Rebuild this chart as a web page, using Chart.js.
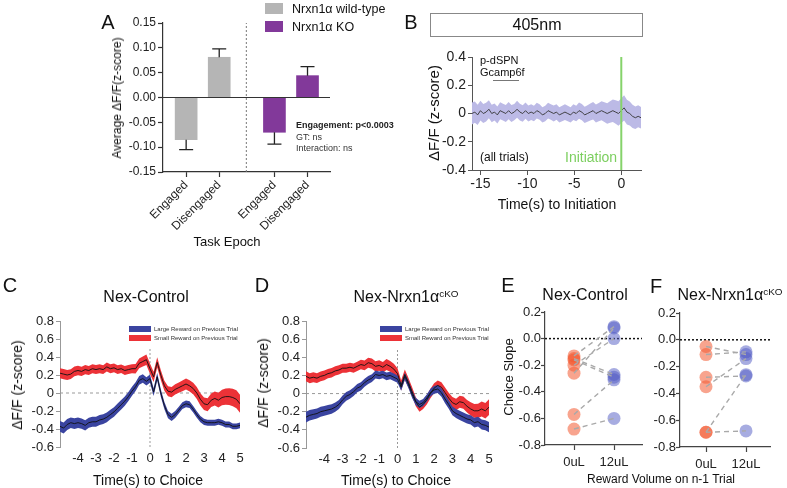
<!DOCTYPE html>
<html><head><meta charset="utf-8">
<script src="https://cdn.jsdelivr.net/npm/chart.js@4.4.1/dist/chart.umd.min.js"></script>
<style>
html,body{margin:0;padding:0;background:#fff;}
#wrap{position:relative;width:787px;height:488px;overflow:hidden;font-family:Arial,"Liberation Sans",Helvetica,sans-serif;color:#111;}
canvas{position:absolute;left:0;top:0;}
.t{position:absolute;white-space:nowrap;line-height:1;transform:translate(0,-50%);}
.c{transform:translate(-50%,-50%);}
.r{transform:translate(-50%,-50%) rotate(-90deg);}
.sw{position:absolute;}
sup{font-size:62%;vertical-align:0.55em;}
</style></head><body><div id="wrap">
<canvas id="cA" width="787" height="488"></canvas>
<canvas id="cB" width="787" height="488"></canvas>
<canvas id="cC" width="787" height="488"></canvas>
<canvas id="cD" width="787" height="488"></canvas>
<canvas id="cE" width="787" height="488"></canvas>
<canvas id="cF" width="787" height="488"></canvas>

<!-- panel letters -->
<div class="t c" style="left:108px;top:22px;font-size:20px">A</div>
<div class="t c" style="left:411px;top:22px;font-size:20px">B</div>
<div class="t c" style="left:10px;top:285px;font-size:20px">C</div>
<div class="t c" style="left:262px;top:285px;font-size:20px">D</div>
<div class="t c" style="left:508px;top:285px;font-size:20px">E</div>
<div class="t c" style="left:656px;top:286px;font-size:20px">F</div>

<!-- A -->
<div class="sw" style="left:265px;top:3px;width:18px;height:11px;background:#b5b5b5"></div>
<div class="sw" style="left:265px;top:21px;width:18px;height:11px;background:#82399a"></div>
<div class="t" style="left:292px;top:9px;font-size:12.5px">Nrxn1α wild-type</div>
<div class="t" style="left:292px;top:27px;font-size:12.5px">Nrxn1α KO</div>
<div class="t" style="left:296px;top:125px;font-size:9px;font-weight:bold;color:#222">Engagement: p&lt;0.0003</div>
<div class="t" style="left:296px;top:137px;font-size:9px;color:#333">GT: ns</div>
<div class="t" style="left:296px;top:148px;font-size:9px;color:#333">Interaction: ns</div>
<div class="t r" style="left:117px;top:98px;font-size:12px">Average ΔF/F(z-score)</div>
<div class="t c" style="left:227px;top:241px;font-size:13px">Task Epoch</div>

<!-- B -->
<div class="sw" style="left:430px;top:13px;width:211px;height:22px;border:1px solid #888"></div>
<div class="t c" style="left:537px;top:25px;font-size:16px">405nm</div>
<div class="t" style="left:480px;top:60px;font-size:11px">p-dSPN</div>
<div class="t" style="left:480px;top:72px;font-size:11px">Gcamp6f</div>
<div class="sw" style="left:493px;top:80px;width:26px;height:1px;background:#777"></div>
<div class="t" style="left:480px;top:157px;font-size:12px">(all trials)</div>
<div class="t" style="left:565px;top:157px;font-size:14px;color:#7ccf5f">Initiation</div>
<div class="t r" style="left:433px;top:113px;font-size:15px">ΔF/F (z-score)</div>
<div class="t c" style="left:557px;top:204px;font-size:14px">Time(s) to Initiation</div>

<!-- C -->
<div class="t c" style="left:146px;top:297px;font-size:16px">Nex-Control</div>
<div class="t r" style="left:17px;top:385px;font-size:14px">ΔF/F (z-score)</div>
<div class="t c" style="left:148px;top:480px;font-size:14px">Time(s) to Choice</div>
<div class="sw" style="left:129px;top:326px;width:22px;height:6px;background:#3a44a0"></div>
<div class="sw" style="left:129px;top:335px;width:22px;height:6px;background:#ec3237"></div>
<div class="t" style="left:154px;top:329px;font-size:6px;color:#333">Large Reward on Previous Trial</div>
<div class="t" style="left:154px;top:338px;font-size:6px;color:#333">Small Reward on Previous Trial</div>

<!-- D -->
<div class="t c" style="left:406px;top:297px;font-size:16px">Nex-Nrxn1α<sup>cKO</sup></div>
<div class="t r" style="left:263px;top:383px;font-size:14px">ΔF/F (z-score)</div>
<div class="t c" style="left:396px;top:480px;font-size:14px">Time(s) to Choice</div>
<div class="sw" style="left:380px;top:326px;width:22px;height:6px;background:#3a44a0"></div>
<div class="sw" style="left:380px;top:335px;width:22px;height:6px;background:#ec3237"></div>
<div class="t" style="left:405px;top:329px;font-size:6px;color:#333">Large Reward on Previous Trial</div>
<div class="t" style="left:405px;top:338px;font-size:6px;color:#333">Small Reward on Previous Trial</div>

<!-- E / F -->
<div class="t c" style="left:585px;top:295px;font-size:16px">Nex-Control</div>
<div class="t r" style="left:508px;top:377px;font-size:13px">Choice Slope</div>
<div class="t c" style="left:730px;top:295px;font-size:16px">Nex-Nrxn1α<sup>cKO</sup></div>
<div class="t c" style="left:661px;top:479px;font-size:12px">Reward Volume on n-1 Trial</div>
</div>
<script>
// ---------------- DATA ----------------
// Panel A
const aCategories = ['Engaged', 'Disengaged', 'Engaged', 'Disengaged'];
const wtMean = [-0.085, 0.081];
const wtErr  = [0.020, 0.017];
const koMean = [-0.070, 0.044];
const koErr  = [0.024, 0.018];

// Panel B (405nm control, time to initiation, 0.3 s bins starting -15.9 s)
const bMean = [
 0.00, 0.01, -0.01, 0.02, 0.00, 0.01, 0.03, 0.00, 0.01, -0.01,
 0.02, 0.01, 0.00, 0.02, 0.00, 0.01, 0.03, 0.01, 0.00, 0.02,
 0.00, 0.01, 0.00, 0.02, 0.01, -0.01, 0.00, 0.02, 0.01, 0.00,
 0.01, -0.01, 0.00, 0.01, 0.00, -0.01, 0.01, 0.00, 0.02, 0.01,
 -0.01, 0.00, 0.01, 0.02, 0.00, 0.01, 0.02, 0.01, 0.00, 0.01,
 0.02, 0.01, 0.00, 0.02, 0.04, 0.01, 0.00, -0.02, -0.03, -0.02,
 -0.03];
const bSem = [
 0.078, 0.075, 0.072, 0.070, 0.068, 0.066, 0.064, 0.062, 0.060, 0.060,
 0.060, 0.059, 0.060, 0.061, 0.060, 0.058, 0.060, 0.059, 0.058, 0.058,
 0.057, 0.056, 0.055, 0.056, 0.055, 0.054, 0.055, 0.056, 0.055, 0.056,
 0.055, 0.054, 0.055, 0.056, 0.055, 0.054, 0.056, 0.055, 0.057, 0.058,
 0.058, 0.059, 0.060, 0.062, 0.063, 0.065, 0.067, 0.070, 0.073, 0.076,
 0.080, 0.083, 0.086, 0.088, 0.090, 0.088, 0.085, 0.082, 0.080, 0.078,
 0.076];
const bTicks = [-15, -10, -5, 0];

// Panels C & D (time to choice, 0.2 s bins from -5 to 5 s)
const cSmall = [
 0.22, 0.21, 0.20, 0.21, 0.24, 0.25, 0.24, 0.26, 0.25, 0.27,
 0.26, 0.27, 0.26, 0.29, 0.27, 0.28, 0.26, 0.27, 0.25, 0.26,
 0.27, 0.27, 0.33, 0.35, 0.37, 0.27, 0.18, 0.34, 0.20, 0.08,
 0.02, 0.01, 0.04, 0.06, 0.08, 0.10, 0.08, 0.05, 0.00, -0.07,
 -0.12, -0.13, -0.08, -0.06, -0.08, -0.05, -0.04, -0.04, -0.05, -0.07,
 -0.12];
const cSmallSem = [
 0.055, 0.056, 0.055, 0.054, 0.055, 0.053, 0.052, 0.052, 0.051, 0.050,
 0.050, 0.050, 0.049, 0.050, 0.050, 0.049, 0.048, 0.048, 0.049, 0.050,
 0.050, 0.052, 0.054, 0.056, 0.058, 0.058, 0.057, 0.056, 0.055, 0.055,
 0.055, 0.056, 0.057, 0.058, 0.060, 0.062, 0.063, 0.064, 0.066, 0.068,
 0.070, 0.072, 0.075, 0.078, 0.082, 0.086, 0.090, 0.094, 0.097, 0.100,
 0.100];
const cLarge = [
 -0.37, -0.39, -0.35, -0.33, -0.34, -0.33, -0.34, -0.36, -0.33, -0.32,
 -0.32, -0.30, -0.29, -0.27, -0.24, -0.21, -0.17, -0.13, -0.09, -0.04,
 0.02, 0.07, 0.14, 0.16, 0.13, 0.16, 0.01, 0.18, 0.00, -0.14,
 -0.24, -0.27, -0.24, -0.19, -0.14, -0.12, -0.13, -0.18, -0.24, -0.29,
 -0.32, -0.33, -0.33, -0.33, -0.32, -0.33, -0.35, -0.35, -0.37, -0.37,
 -0.36];
const cLargeSem = [
 0.060, 0.061, 0.060, 0.059, 0.060, 0.058, 0.058, 0.057, 0.056, 0.056,
 0.055, 0.055, 0.054, 0.054, 0.053, 0.053, 0.052, 0.052, 0.051, 0.050,
 0.050, 0.049, 0.048, 0.047, 0.046, 0.045, 0.044, 0.043, 0.042, 0.041,
 0.040, 0.040, 0.039, 0.038, 0.038, 0.037, 0.037, 0.036, 0.036, 0.035,
 0.035, 0.034, 0.034, 0.034, 0.033, 0.033, 0.033, 0.032, 0.032, 0.032,
 0.032];
const dSmall = [
 0.19, 0.17, 0.18, 0.17, 0.19, 0.20, 0.22, 0.23, 0.25, 0.26,
 0.28, 0.28, 0.29, 0.28, 0.30, 0.32, 0.31, 0.34, 0.33, 0.30,
 0.31, 0.29, 0.32, 0.30, 0.27, 0.22, 0.09, 0.21, 0.12, 0.02,
 -0.09, -0.15, -0.12, -0.07, 0.00, 0.06, 0.09, 0.07, 0.01, -0.05,
 -0.10, -0.12, -0.09, -0.10, -0.14, -0.17, -0.19, -0.19, -0.17, -0.19,
 -0.15];
const dSmallSem = [
 0.055, 0.055, 0.054, 0.054, 0.053, 0.053, 0.052, 0.052, 0.051, 0.051,
 0.050, 0.050, 0.050, 0.051, 0.052, 0.053, 0.054, 0.055, 0.056, 0.057,
 0.058, 0.059, 0.060, 0.060, 0.060, 0.058, 0.056, 0.054, 0.052, 0.050,
 0.050, 0.050, 0.050, 0.051, 0.052, 0.053, 0.054, 0.056, 0.058, 0.060,
 0.062, 0.064, 0.066, 0.068, 0.070, 0.073, 0.076, 0.079, 0.082, 0.085,
 0.087];
const dLarge = [
 -0.26, -0.24, -0.23, -0.22, -0.20, -0.19, -0.18, -0.17, -0.15, -0.12,
 -0.07, -0.03, -0.01, 0.02, 0.06, 0.08, 0.12, 0.15, 0.17, 0.21,
 0.20, 0.21, 0.19, 0.20, 0.18, 0.16, 0.07, 0.19, 0.10, -0.01,
 -0.09, -0.12, -0.10, -0.05, 0.01, 0.04, 0.05, 0.01, -0.06, -0.12,
 -0.19, -0.22, -0.24, -0.26, -0.28, -0.29, -0.32, -0.31, -0.34, -0.35,
 -0.37];
const dLargeSem = [
 0.060, 0.058, 0.057, 0.056, 0.055, 0.054, 0.053, 0.052, 0.051, 0.050,
 0.049, 0.048, 0.047, 0.046, 0.045, 0.045, 0.044, 0.044, 0.043, 0.043,
 0.042, 0.042, 0.042, 0.041, 0.041, 0.040, 0.040, 0.040, 0.040, 0.040,
 0.040, 0.040, 0.040, 0.041, 0.042, 0.043, 0.044, 0.045, 0.046, 0.047,
 0.048, 0.049, 0.050, 0.050, 0.051, 0.052, 0.053, 0.054, 0.055, 0.055,
 0.056];

// Panels E & F (choice slope per animal)
const volCategories = ['0uL', '12uL'];
const e0uL  = [-0.13, -0.15, -0.16, -0.20, -0.26, -0.57, -0.68];
const e12uL = [ 0.09, -0.27, -0.29,  0.00,  0.08, -0.31, -0.60];
const f0uL  = [-0.05, -0.11, -0.28, -0.35, -0.69, -0.69];
const f12uL = [-0.11, -0.09, -0.27, -0.14, -0.26, -0.68];

// ---------------- LAYOUT / STYLE ----------------
const W = 787, H = 488, YW = 40;
const FONT = 'Arial, "Liberation Sans", Helvetica, sans-serif';
function area(l, t, r, b, xh) {
  return { padding: { left: l - YW, top: t, right: W - r, bottom: H - b - xh }, autoPadding: false };
}
function refPlugin(lines) {
  function draw(chart, before) {
    const { ctx, chartArea: a, scales: { x, y } } = chart;
    lines.forEach(L => {
      if (!!L.before !== before) return;
      ctx.save();
      ctx.strokeStyle = L.color; ctx.lineWidth = L.width || 1; ctx.setLineDash(L.dash || []);
      ctx.beginPath();
      if (L.axis === 'x') {
        const px = x.getPixelForValue(L.value);
        const y0 = L.from !== undefined ? y.getPixelForValue(L.from) : a.bottom;
        const y1 = L.to !== undefined ? y.getPixelForValue(L.to) : a.top;
        ctx.moveTo(px, y0); ctx.lineTo(px, y1);
      } else {
        const py = y.getPixelForValue(L.value);
        ctx.moveTo(a.left, py); ctx.lineTo(a.right, py);
      }
      ctx.stroke(); ctx.restore();
    });
  }
  return { id: 'ref' + Math.random().toString(36).slice(2), beforeDatasetsDraw(c) { draw(c, true); }, afterDatasetsDraw(c) { draw(c, false); } };
}
const base = { responsive: false, animation: false, events: [], plugins: { legend: { display: false }, tooltip: { enabled: false } } };
function fmt1(v) { return Math.abs(v) < 1e-9 ? '0' : v.toFixed(1); }
function pts(xs, ys) { return ys.map((v, i) => ({ x: xs[i], y: v })); }
function band(xs, m, s, sign) { return m.map((v, i) => ({ x: xs[i], y: v + sign * s[i] })); }

// ---------------- A ----------------
const aSlots = [1, 2, 3.67, 4.67];
const errPlugin = {
  id: 'errA',
  afterDatasetsDraw(chart) {
    const { ctx } = chart; const y = chart.scales.y;
    [[0, wtMean, wtErr], [1, koMean, koErr]].forEach(([di, m, e]) => {
      chart.getDatasetMeta(di).data.forEach((bar, i) => {
        const py = y.getPixelForValue(m[i] + Math.sign(m[i]) * e[i]);
        ctx.save(); ctx.strokeStyle = '#222'; ctx.lineWidth = 1.3;
        ctx.beginPath(); ctx.moveTo(bar.x, bar.y); ctx.lineTo(bar.x, py);
        ctx.moveTo(bar.x - 7, py); ctx.lineTo(bar.x + 7, py); ctx.stroke(); ctx.restore();
      });
    });
  }
};
new Chart(document.getElementById('cA'), {
  type: 'bar',
  data: { datasets: [
    { data: pts(aSlots.slice(0, 2), wtMean), backgroundColor: '#b5b5b5', barThickness: 22, grouped: false },
    { data: pts(aSlots.slice(2), koMean), backgroundColor: '#82399a', barThickness: 22, grouped: false }
  ] },
  options: Object.assign({}, base, {
    layout: area(163, 23, 330, 172, 80),
    scales: {
      x: { type: 'linear', min: 0.3, max: 5.35, offset: false,
        afterBuildTicks: s => { s.ticks = aSlots.map(v => ({ value: v })); },
        afterFit: s => { s.height = 80; },
        ticks: { autoSkip: false, minRotation: 45, maxRotation: 45, callback: (v, i) => aCategories[i], font: { family: FONT, size: 12 }, color: '#222', padding: 1 },
        grid: { display: true, drawOnChartArea: false, offset: false, tickLength: 5, tickColor: '#333', tickWidth: 1.2 },
        border: { display: true, color: '#333', width: 1.2 } },
      y: { min: -0.15, max: 0.15,
        afterFit: s => { s.width = YW; },
        ticks: { autoSkip: false, stepSize: 0.05, callback: v => Math.abs(v) < 1e-9 ? '0.00' : v.toFixed(2), font: { family: FONT, size: 12 }, color: '#222', padding: 2 },
        grid: { drawOnChartArea: false, tickLength: 5, tickColor: '#333', tickWidth: 1.2 },
        border: { color: '#333', width: 1.2 } }
    }
  }),
  plugins: [errPlugin, refPlugin([
    { axis: 'y', value: 0, color: '#333', width: 1.2 },
    { axis: 'x', value: 2.82, color: '#777', width: 1, dash: [2, 2] }
  ])]
});

// ---------------- B ----------------
const bTime = bMean.map((_, i) => +(-15.9 + 0.3 * i).toFixed(1));
new Chart(document.getElementById('cB'), {
  type: 'line',
  data: { datasets: [
    { data: pts(bTime, bMean), borderColor: '#333', borderWidth: 0.9, pointRadius: 0, fill: false },
    { data: band(bTime, bMean, bSem, 1), borderWidth: 0, pointRadius: 0, backgroundColor: '#bcbae6', fill: '+1' },
    { data: band(bTime, bMean, bSem, -1), borderWidth: 0, pointRadius: 0, fill: false }
  ] },
  options: Object.assign({}, base, {
    layout: area(472, 57, 641, 170, 40),
    scales: {
      x: { type: 'linear', min: -15.9, max: 2.1,
        afterBuildTicks: s => { s.ticks = bTicks.map(v => ({ value: v })); },
        afterFit: s => { s.height = 40; },
        ticks: { autoSkip: false, maxRotation: 0, callback: v => String(v), font: { family: FONT, size: 14 }, color: '#222', padding: 1 },
        grid: { drawOnChartArea: false, tickLength: 5, tickColor: '#555' },
        border: { color: '#555', width: 1 } },
      y: { min: -0.4, max: 0.4,
        afterFit: s => { s.width = YW; },
        ticks: { autoSkip: false, stepSize: 0.2, callback: fmt1, font: { family: FONT, size: 14 }, color: '#222', padding: 2 },
        grid: { drawOnChartArea: false, tickLength: 4, tickColor: '#555' },
        border: { color: '#555', width: 1 } }
    }
  }),
  plugins: [refPlugin([{ axis: 'x', value: 0, color: '#86d36b', width: 2 }])]
});

// ---------------- C & D ----------------
const tGrid = cSmall.map((_, i) => +(-5 + 0.2 * i).toFixed(1));
function tracePanel(id, box, small, smallSem, large, largeSem) {
  new Chart(document.getElementById(id), {
    type: 'line',
    data: { datasets: [
      { data: pts(tGrid, small), borderColor: '#111', borderWidth: 0.9, pointRadius: 0, fill: false },
      { data: pts(tGrid, large), borderColor: '#111', borderWidth: 0.9, pointRadius: 0, fill: false },
      { data: band(tGrid, large, largeSem, 1), borderWidth: 0, pointRadius: 0, backgroundColor: '#3a44a0', fill: '+1' },
      { data: band(tGrid, large, largeSem, -1), borderWidth: 0, pointRadius: 0, fill: false },
      { data: band(tGrid, small, smallSem, 1), borderWidth: 0, pointRadius: 0, backgroundColor: '#ec3237', fill: '+1' },
      { data: band(tGrid, small, smallSem, -1), borderWidth: 0, pointRadius: 0, fill: false }
    ] },
    options: Object.assign({}, base, {
      layout: area(box[0], box[1], box[2], box[3], 30),
      scales: {
        x: { type: 'linear', min: -5, max: 5,
          afterFit: s => { s.height = 30; },
          ticks: { stepSize: 1, autoSkip: false, maxRotation: 0, callback: v => v === -5 ? '' : String(v), font: { family: FONT, size: 13 }, color: '#222', padding: 4 },
          grid: { display: false, drawTicks: false, tickLength: 0 }, border: { display: false } },
        y: { min: -0.6, max: 0.8,
          afterFit: s => { s.width = YW; },
          ticks: { autoSkip: false, stepSize: 0.2, callback: fmt1, font: { family: FONT, size: 13 }, color: '#222', padding: 2 },
          grid: { drawOnChartArea: false, tickLength: 4, tickColor: '#999' },
          border: { color: '#999', width: 1 } }
      }
    }),
    plugins: [refPlugin([
      { axis: 'y', value: 0, color: '#999', width: 1, dash: [3, 3], before: true },
      { axis: 'x', value: 0, from: -0.6, to: 0.5, color: '#999', width: 1, dash: [2, 2], before: true }
    ])]
  });
}
tracePanel('cC', [60, 321, 240, 447], cSmall, cSmallSem, cLarge, cLargeSem);
tracePanel('cD', [306, 321, 489, 448], dSmall, dSmallSem, dLarge, dLargeSem);

// ---------------- E & F ----------------
function slopePanel(id, box, xmin, xmax, v0, v12) {
  const lines = v0.map((v, i) => ({
    data: [{ x: 0, y: v }, { x: 1, y: v12[i] }], borderColor: '#a9a9a9', borderWidth: 1.4,
    borderDash: [5, 4], pointRadius: 0, fill: false
  }));
  const dots = [
    { data: v0.map(v => ({ x: 0, y: v })), showLine: false, pointRadius: 6.5, pointBorderWidth: 0, pointBackgroundColor: 'rgba(242,90,50,0.55)' },
    { data: v12.map(v => ({ x: 1, y: v })), showLine: false, pointRadius: 6.5, pointBorderWidth: 0, pointBackgroundColor: 'rgba(80,90,195,0.5)' }
  ];
  new Chart(document.getElementById(id), {
    type: 'line',
    data: { datasets: lines.concat(dots) },
    options: Object.assign({}, base, {
      layout: area(box[0], box[1], box[2], box[3], 30),
      scales: {
        x: { type: 'linear', min: xmin, max: xmax,
          afterBuildTicks: s => { s.ticks = [0, 1].map(v => ({ value: v })); },
          afterFit: s => { s.height = 30; },
          ticks: { autoSkip: false, maxRotation: 0, callback: (v, i) => volCategories[i], font: { family: FONT, size: 13 }, color: '#222', padding: 5 },
          grid: { drawOnChartArea: false, tickLength: 5, tickColor: '#444', tickWidth: 1.2 },
          border: { color: '#444', width: 1.2 } },
        y: { min: -0.8, max: 0.2,
          afterFit: s => { s.width = YW; },
          ticks: { autoSkip: false, stepSize: 0.2, callback: v => Math.abs(v) < 1e-9 ? '0.0' : v.toFixed(1), font: { family: FONT, size: 13 }, color: '#222', padding: 0 },
          grid: { drawOnChartArea: false, tickLength: 4, tickColor: '#444', tickWidth: 1.2 },
          border: { color: '#444', width: 1.2 } }
      }
    }),
    plugins: [refPlugin([{ axis: 'y', value: 0, color: '#111', width: 1.5, dash: [2, 2], before: true }])]
  });
}
slopePanel('cE', [545, 312, 642, 445], -0.725, 1.7, e0uL, e12uL);
slopePanel('cF', [680, 313, 770, 447], -0.65, 1.6, f0uL, f12uL);
</script>
</body></html>
